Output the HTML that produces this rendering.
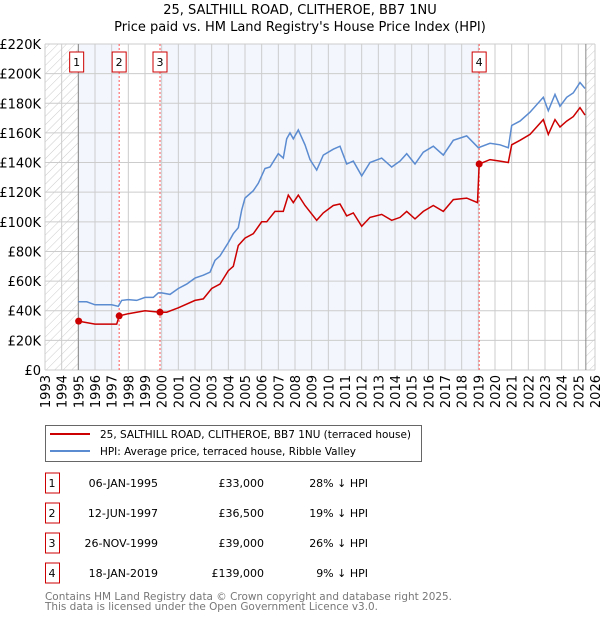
<!DOCTYPE html>
<html><head><meta charset="utf-8"><style>
body{margin:0;background:#fff;font-family:"Liberation Sans","DejaVu Sans",sans-serif;}
svg text{font-family:"DejaVu Sans","Liberation Sans",sans-serif;}
</style></head><body>
<svg id="c" width="600" height="620" xmlns="http://www.w3.org/2000/svg">
<defs><pattern id="h" width="6" height="6" patternUnits="userSpaceOnUse" patternTransform="rotate(45)"><line x1="0" y1="0" x2="0" y2="6" stroke="#ccc" stroke-width="1"/></pattern></defs>
<text x="300" y="14" text-anchor="middle" font-size="13">25, SALTHILL ROAD, CLITHEROE, BB7 1NU</text>
<text x="300" y="31" text-anchor="middle" font-size="13">Price paid vs. HM Land Registry's House Price Index (HPI)</text>
<g id="plot"></g>
<g>
<rect x="45.5" y="425.5" width="376" height="36" fill="#fff" stroke="#666"/>
<line x1="50" y1="434" x2="90" y2="434" stroke="#cc0000" stroke-width="2"/>
<text x="100" y="438" font-size="11" textLength="311" lengthAdjust="spacingAndGlyphs">25, SALTHILL ROAD, CLITHEROE, BB7 1NU (terraced house)</text>
<line x1="50" y1="451" x2="90" y2="451" stroke="#5b8bd0" stroke-width="2"/>
<text x="100" y="455" font-size="11" textLength="256" lengthAdjust="spacingAndGlyphs">HPI: Average price, terraced house, Ribble Valley</text>
</g>
<g id="tbl" font-size="11"></g>
<text x="45" y="600" font-size="11" fill="#777" textLength="407" lengthAdjust="spacingAndGlyphs">Contains HM Land Registry data © Crown copyright and database right 2025.</text>
<text x="45" y="610" font-size="11" fill="#777" textLength="333" lengthAdjust="spacingAndGlyphs">This data is licensed under the Open Government Licence v3.0.</text>
</svg>
<script>
const hpiYears=[1995,1995.5,1996,1996.5,1997,1997.4,1997.6,1998,1998.5,1999,1999.5,1999.8,2000,2000.5,2001,2001.5,2002,2002.5,2002.9,2003.2,2003.5,2004,2004.3,2004.6,2004.8,2005,2005.5,2005.8,2006.2,2006.5,2007,2007.3,2007.5,2007.7,2007.9,2008.2,2008.6,2008.9,2009.3,2009.7,2010.3,2010.7,2011.1,2011.5,2012.0,2012.5,2013.2,2013.8,2014.3,2014.7,2015.2,2015.7,2016.3,2016.9,2017.5,2018.3,2019.0,2019.7,2020.3,2020.8,2021.0,2021.5,2022.1,2022.9,2023.2,2023.6,2023.9,2024.3,2024.7,2025.1,2025.4];
const hpiValues=[46,46,44,44,44,43,47,47.5,47,49,49,52,52,51,55,58,62,64,66,74,77,86,92,96,108,116,121,126,136,137,146,143,156,160,156,162,152,142,135,145,149,151,139,141,131,140,143,137,141,146,139,147,151,145,155,158,150,153,152,150,165,168,174,184,175,186,178,184,187,194,190];
const ppYears=[1995,1996,1997.3,1997.45,1998,1999,1999.9,2000.3,2001,2002,2002.5,2003,2003.5,2004,2004.3,2004.6,2005,2005.5,2006,2006.3,2006.8,2007.3,2007.6,2007.9,2008.2,2008.6,2009.3,2009.7,2010.3,2010.7,2011.1,2011.5,2012.0,2012.5,2013.2,2013.8,2014.3,2014.7,2015.2,2015.7,2016.3,2016.9,2017.5,2018.3,2018.95,2019.05,2019.7,2020.3,2020.8,2021.0,2021.5,2022.1,2022.9,2023.2,2023.6,2023.9,2024.3,2024.7,2025.1,2025.4];
const ppValues=[33,31,31,36.5,38,40,39,39,42,47,48,55,58,67,70,84,89,92,100,100,107,107,118,113,118,111,101,106,111,112,104,106,97,103,105,101,103,107,102,107,111,107,115,116,113,139,142,141,140,152,155,159,169,159,169,164,168,171,177,172];
const saleYears=[1995.02,1997.45,1999.9,2019.05];
const saleValues=[33,36.5,39,139];
const saleLabels=["1","2","3","4"];
const saleDates=["06-JAN-1995","12-JUN-1997","26-NOV-1999","18-JAN-2019"];
const salePrices=["£33,000","£36,500","£39,000","£139,000"];
const saleHpi=["28% ↓ HPI","19% ↓ HPI","26% ↓ HPI","9% ↓ HPI"];
const yTicks=[0,20,40,60,80,100,120,140,160,180,200,220];
const xTicks=[];for(let y=1993;y<=2026;y++)xTicks.push(y);

const NS="http://www.w3.org/2000/svg";
const X0=45,X1=595,Y0=370,Y1=44;
const sx=y=>X0+(y-1993)*(X1-X0)/33;
const sy=v=>Y0-v*(Y0-Y1)/220;
const g=document.getElementById('plot');
function mk(t,a,p){const e=document.createElementNS(NS,t);for(const k in a)e.setAttribute(k,a[k]);(p||g).appendChild(e);return e;}
const dataEnd=2025.45;
const bands=[[saleYears[0],saleYears[1]],[saleYears[2],saleYears[3]]];
bands.forEach(b=>{const r=mk('rect',{x:sx(b[0]),y:Y1,width:sx(b[1])-sx(b[0]),height:Y0-Y1,fill:'#eef2fc',opacity:0.7});

});
const h1=mk('rect',{x:X0,y:Y1,width:sx(1995)-X0,height:Y0-Y1,fill:'url(#h)'});


const h2=mk('rect',{x:sx(dataEnd),y:Y1,width:X1-sx(dataEnd),height:Y0-Y1,fill:'url(#h)'});


xTicks.forEach(t=>{const l=mk('line',{x1:sx(t),x2:sx(t),y1:Y1,y2:Y0,stroke:'#ccc','stroke-width':1});


const tx=mk('text',{x:0,y:0,'font-size':13,'text-anchor':'end',transform:`translate(${sx(t)+5},${Y0+5}) rotate(-90)`});tx.textContent=t;

});
yTicks.forEach(t=>{const l=mk('line',{x1:X0,x2:X1,y1:sy(t),y2:sy(t),stroke:'#ccc','stroke-width':1});


const tx=mk('text',{x:41,y:sy(t)+5,'font-size':13,'text-anchor':'end'});tx.textContent=t==0?'£0':'£'+t+'K';

});
const v1=mk('line',{x1:sx(1995),x2:sx(1995),y1:Y1,y2:Y0,stroke:'#888'});


const v2=mk('line',{x1:sx(dataEnd),x2:sx(dataEnd),y1:Y1,y2:Y0,stroke:'#888'});


saleYears.forEach((s,i)=>{
 if(i>0){const l=mk('line',{x1:sx(s),x2:sx(s),y1:Y1,y2:Y0,stroke:'#f55','stroke-width':1,'stroke-dasharray':'2,2'});
 
 }
 const bx=sx(s)-(i==0?9:7);
 const r=mk('rect',{x:bx,y:52,width:14,height:20,fill:'#fff',stroke:'#cc0000'});
 
 
 const t=mk('text',{x:bx+7,y:66,'font-size':11,'text-anchor':'middle'});t.textContent=saleLabels[i];
 
 
});
function path(xs,vs){return xs.map((x,i)=>(i?'L':'M')+sx(x).toFixed(1)+','+sy(vs[i]).toFixed(1)).join('');}
const hp=mk('path',{d:path(hpiYears,hpiValues),fill:'none',stroke:'#5b8bd0','stroke-width':1.5});


const pp=mk('path',{d:path(ppYears,ppValues),fill:'none',stroke:'#cc0000','stroke-width':1.5});


saleYears.forEach((s,i)=>{const c=mk('circle',{cx:sx(s),cy:sy(saleValues[i]),r:3.5,fill:'#cc0000'});

});
const tb=document.getElementById('tbl');
saleLabels.forEach((lab,i)=>{const y=483+i*30;
 const r=mk('rect',{x:45.5,y:y-10,width:14,height:20,fill:'#fff',stroke:'#cc0000'},tb);
 
 
 const cols=[[52,lab,'middle'],[158,saleDates[i],'end'],[264,salePrices[i],'end'],[368,saleHpi[i],'end']];
 cols.forEach(c=>{const t=mk('text',{x:c[0],y:y+4,'text-anchor':c[2]},tb);t.textContent=c[1];
 
 });
});
</script>
</body></html>
